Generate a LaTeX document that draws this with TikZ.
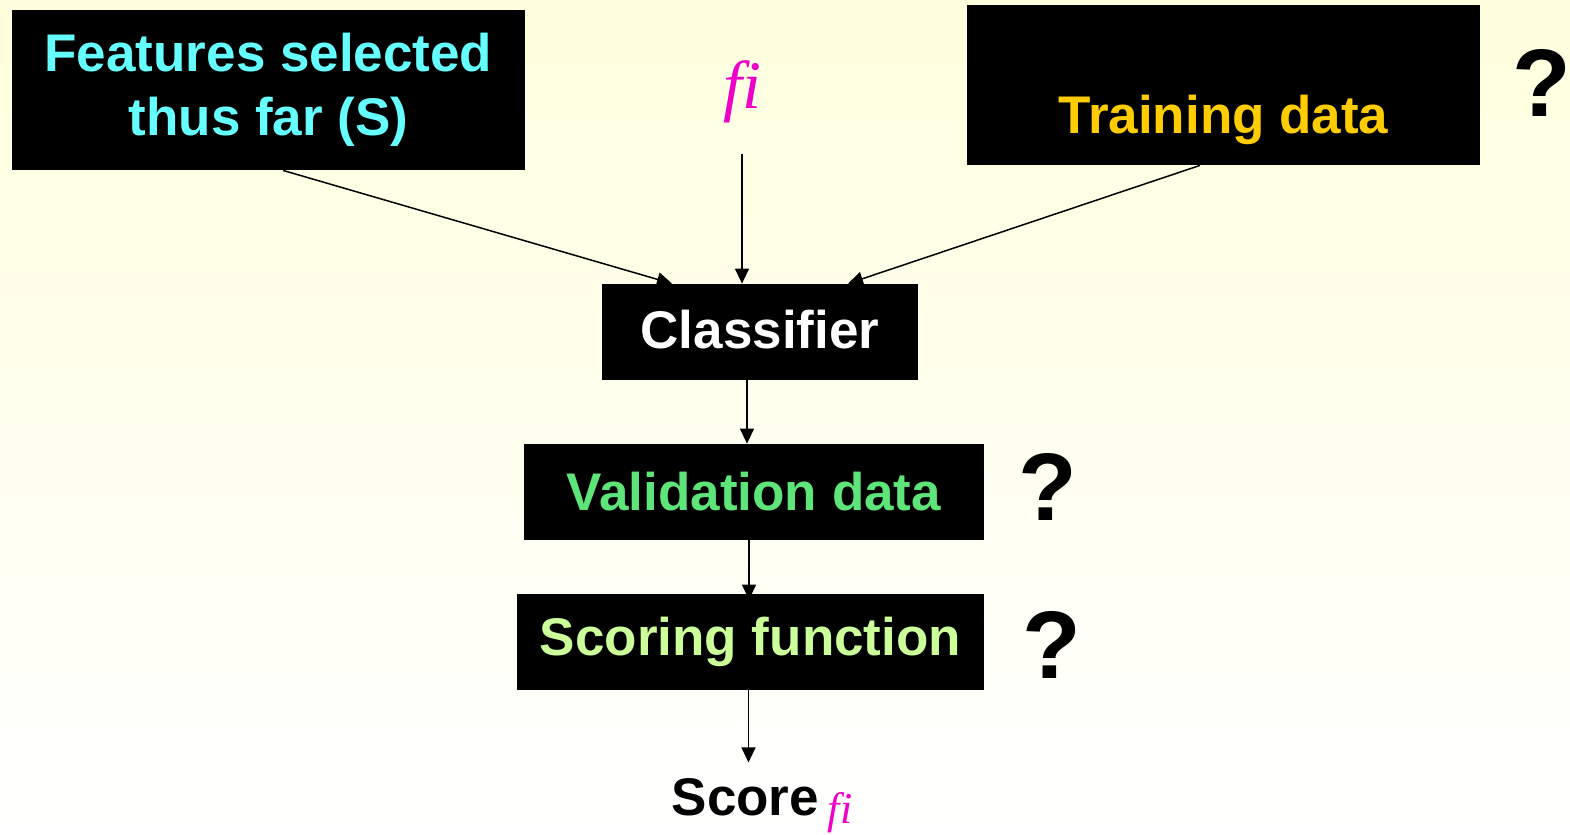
\documentclass[tikz,border=0pt]{standalone}
\usepackage{fontspec}
\setmainfont{Liberation Sans}
\newfontfamily\fiface{Liberation Serif}
\usetikzlibrary{arrows.meta,positioning,calc}

\definecolor{featcyan}{HTML}{66FFFF}
\definecolor{traingold}{HTML}{FFCC00}
\definecolor{valgreen}{HTML}{5EE57A}
\definecolor{scorelime}{HTML}{CCFF99}
\definecolor{fimag}{HTML}{EE00C8}
\definecolor{paleyel}{HTML}{FFFFDE}

\begin{document}
\begin{tikzpicture}[x=0.5pt,y=-0.5pt,>={Triangle[length=7.5pt,width=7pt]},
  every node/.style={font=\fontsize{26.5}{32}\selectfont\bfseries},
  box/.style={fill=black,align=center,inner sep=0pt},
  qmark/.style={font=\fontsize{48}{48}\selectfont\bfseries}]
  \useasboundingbox (0,0) rectangle (1570,835);
  \shade[top color=paleyel,bottom color=white] (0,0) rectangle (1570,835);

  \node[box,text=featcyan,minimum width=256.5pt,minimum height=80pt] (feat) at (268.5,90) {Features selected\\thus far (S)};
  \node[box,text=traingold,minimum width=256.5pt,minimum height=80pt] (train) at (1223.5,85) {\strut\\Training data};
  \node[font=\fontsize{34}{34}\selectfont\fiface\itshape,text=fimag,inner sep=6pt] (fi) at (742,92) {fi};

  \node[box,text=white,minimum width=158pt,minimum height=48pt] (clf) at (760,332) {\raisebox{3pt}{Classifier}};
  \node[box,text=valgreen,minimum width=230pt,minimum height=48pt] (val) at (754,492) {Validation data};
  \node[box,text=scorelime,minimum width=233.5pt,minimum height=48pt] (scr) at (750.5,642) {Scoring function};
  \node[inner sep=8pt] (score) at (762,806) {Score\,\raisebox{-4pt}{\fontsize{22}{22}\selectfont\fiface\itshape\mdseries\color{fimag}fi}};

  \node[qmark] (q1) at (1542,83) {?};
  \node[qmark] (q2) at (1048,487) {?};
  \node[qmark] (q3) at (1052,645) {?};

  \draw[line width=0.75pt,->] ([xshift=7.25pt]feat.south) -- ([xshift=-44pt]clf.north);
  \draw[line width=0.75pt,->,shorten <=9pt] (fi.south) -- (fi.south |- clf.north);
  \draw[line width=0.75pt,->] ([xshift=-11.75pt]train.south) -- ([xshift=44pt]clf.north);
  \draw[line width=0.75pt,->] ([xshift=-6.5pt]clf.south) -- ([xshift=-6.5pt]clf.south |- val.north);
  \draw[line width=0.75pt,->,shorten >=-3pt] ([xshift=-2.5pt]val.south) -- ([xshift=-2.5pt]val.south |- scr.north);
  \draw[line width=0.75pt,->] ([xshift=-1pt]scr.south) -- ([xshift=-1pt]scr.south |- score.north);
\end{tikzpicture}
\end{document}
